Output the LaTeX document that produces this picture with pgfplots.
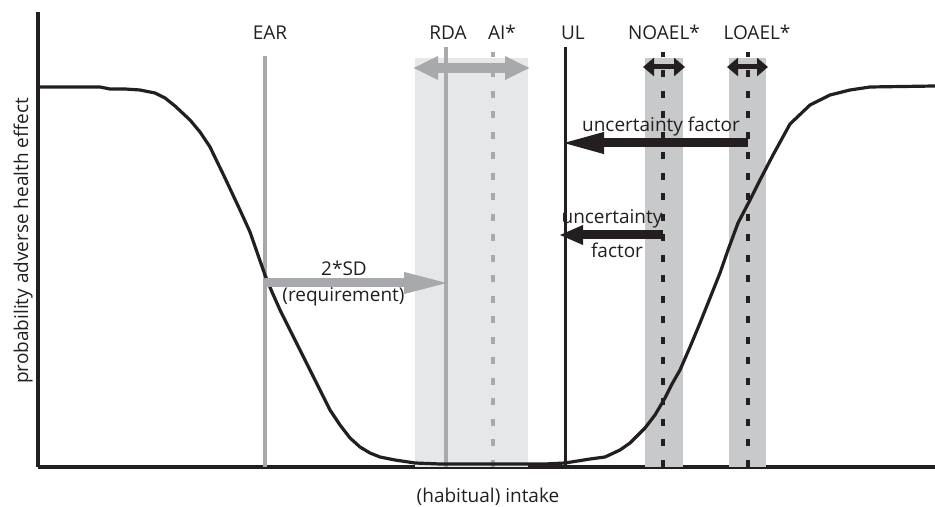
\documentclass[border=0pt]{standalone}
\usepackage{pgfplots}
\pgfplotsset{compat=1.18}
\usepackage{fontspec}
\setmainfont{Open Sans}
\usetikzlibrary{arrows.meta}
\definecolor{ink}{HTML}{231F20}
\definecolor{lgray}{HTML}{A7A9AC}
\definecolor{bandlight}{HTML}{E6E7E8}
\definecolor{bandgray}{HTML}{C8C9CB}
\begin{document}
\begin{tikzpicture}
\begin{axis}[
  at={(38bp,40bp)}, anchor=south west,
  scale only axis, width=897bp, height=455bp,
  xmin=38, xmax=935, ymin=0, ymax=455,
  axis x line=bottom, axis y line=left,
  axis line style={-, line width=3.5bp, ink},
  xtick=\empty, ytick=\empty,
  clip=false,
  font=\fontsize{19bp}{22bp}\selectfont,
]
% bands
\addplot[draw=none, fill=bandlight] coordinates {(415,0) (528,0) (528,409) (415,409)} -- cycle;
\addplot[draw=none, fill=bandgray] coordinates {(645,0) (683,0) (683,409) (645,409)} -- cycle;
\addplot[draw=none, fill=bandgray] coordinates {(729,0) (766,0) (766,409) (729,409)} -- cycle;
% vertical reference lines
\addplot[lgray, line width=3.3bp] coordinates {(265,0) (265,411)};
\addplot[lgray, line width=3.3bp] coordinates {(446,0) (446,420)};
\addplot[lgray, line width=3.8bp, dash pattern=on 7bp off 13.5bp] coordinates {(493,0) (493,415)};
\addplot[ink, line width=3bp] coordinates {(565,0) (565,420)};
\addplot[ink, line width=4bp, dash pattern=on 7bp off 13.5bp] coordinates {(663,0) (663,415)};
\addplot[ink, line width=4bp, dash pattern=on 7bp off 13.5bp] coordinates {(748,0) (748,415)};
% curve
\addplot[ink, line width=3.2bp, line join=round] coordinates {
(38,380) (100,380) (110,378) (125,378) (140,377) (155,374) (165,369) (175,361)
(190,347) (200,335) (210,320) (225,289) (240,257) (250,235) (258,212) (265,192)
(272,175) (280,157) (290,137) (300,117) (310,97) (320,77) (330,57) (340,42)
(350,29) (360,20) (370,14) (380,10) (395,7) (415,4) (440,3) (530,3) (545,3)
(565,4) (590,8) (605,10) (620,17) (630,24) (645,39) (655,52) (665,69) (672,83)
(680,97) (690,120) (700,144) (710,169) (720,194) (728,217) (738,244) (750,267)
(760,287) (773,312) (790,343) (810,362) (830,372) (850,377) (870,380) (935,381)};
% arrows
\addplot[lgray, line width=10bp, {Triangle[length=25bp,width=22bp]}-{Triangle[length=25bp,width=22bp]}] coordinates {(413,399) (530,399)};
\addplot[ink, line width=5bp, {Triangle[length=11bp,width=18bp]}-{Triangle[length=11bp,width=18bp]}] coordinates {(643,400) (685,400)};
\addplot[ink, line width=5bp, {Triangle[length=11bp,width=18bp]}-{Triangle[length=11bp,width=18bp]}] coordinates {(727,400) (768,400)};
\addplot[ink, line width=9bp, -{Triangle[length=45bp,width=19bp]}] coordinates {(748,324) (559,324)};
\addplot[ink, line width=9bp, -{Triangle[length=24bp,width=18bp]}] coordinates {(663,232) (559,232)};
\addplot[lgray, line width=9bp, -{Triangle[length=48bp,width=19bp]}] coordinates {(265,184) (452,184)};
% labels
\node[anchor=base, ink] at (270,427.5) {EAR};
\node[anchor=base, ink] at (448,427.5) {RDA};
\node[anchor=base, ink] at (502,427.5) {AI*};
\node[anchor=base, ink] at (573,427.5) {UL};
\node[anchor=base, ink] at (664,427.5) {NOAEL*};
\node[anchor=base, ink] at (757,427.5) {LOAEL*};
\node[anchor=base, ink] at (661,335) {uncertainty factor};
\node[anchor=base, ink] at (612,243) {uncertainty};
\node[anchor=base, ink] at (617,209) {factor};
\node[anchor=base, ink] at (344,191) {2*SD};
\node[anchor=base, ink] at (343.5,165) {(requirement)};
\node[anchor=base, ink] at (488,-35) {(habitual) intake};
\node[anchor=base, ink, rotate=90] at (28,226) {probability adverse health effect};
\end{axis}
\pgfresetboundingbox
\useasboundingbox (0,0) rectangle (935bp,507bp);
\end{tikzpicture}
\end{document}
